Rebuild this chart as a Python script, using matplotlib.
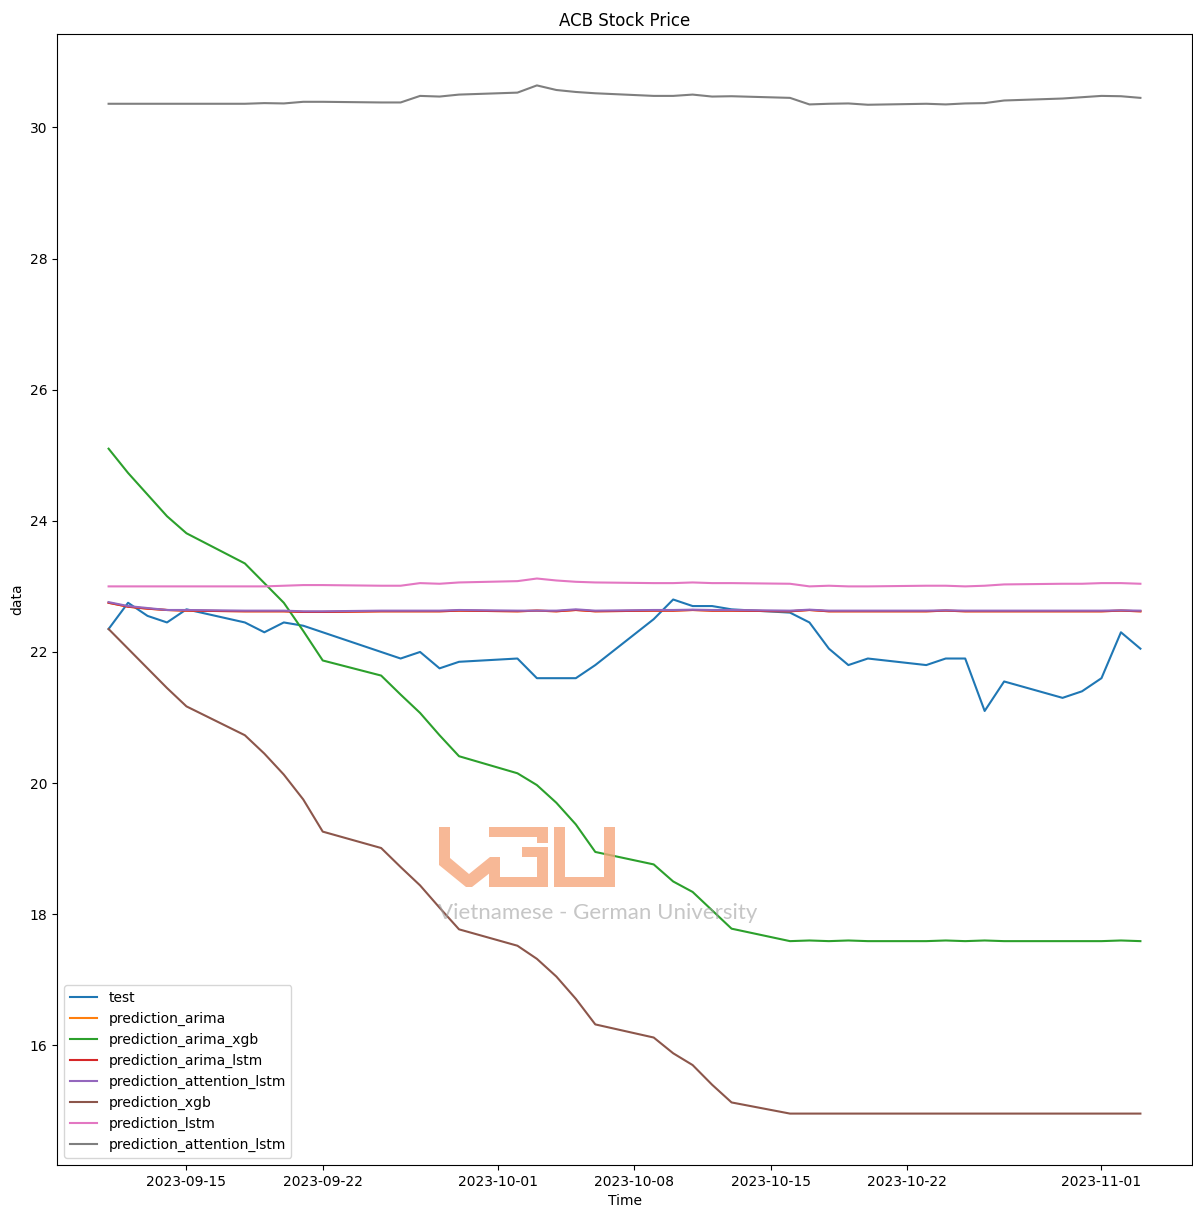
import matplotlib
matplotlib.use('Agg')
import matplotlib.pyplot as plt
import pandas as pd
from matplotlib.path import Path
from matplotlib.patches import PathPatch

# ---------------- data ----------------
dates = pd.bdate_range('2023-09-11', '2023-11-03')

test = [22.35, 22.75, 22.55, 22.45, 22.65,
        22.45, 22.30, 22.45, 22.40, 22.30,
        22.00, 21.90, 22.00, 21.75, 21.85,
        21.90, 21.60, 21.60, 21.60, 21.80,
        22.50, 22.80, 22.70, 22.70, 22.65,
        22.60, 22.45, 22.05, 21.80, 21.90,
        21.80, 21.90, 21.90, 21.10, 21.55,
        21.30, 21.40, 21.60, 22.30, 22.05]

prediction_arima = [22.75, 22.69, 22.66, 22.64, 22.63,
                    22.62, 22.62, 22.62, 22.61, 22.61,
                    22.62, 22.62, 22.62, 22.62, 22.63,
                    22.62, 22.63, 22.62, 22.64, 22.62,
                    22.63, 22.63, 22.64, 22.63, 22.63,
                    22.62, 22.64, 22.62, 22.62, 22.62,
                    22.62, 22.63, 22.62, 22.62, 22.62,
                    22.62, 22.62, 22.62, 22.63, 22.62]

prediction_arima_xgb = [25.10, 24.73, 24.40, 24.07, 23.81,
                        23.35, 23.05, 22.75, 22.32, 21.87,
                        21.64, 21.35, 21.07, 20.73, 20.41,
                        20.15, 19.97, 19.70, 19.37, 18.95,
                        18.76, 18.50, 18.34, 18.06, 17.78,
                        17.59, 17.60, 17.59, 17.60, 17.59,
                        17.59, 17.60, 17.59, 17.60, 17.59,
                        17.59, 17.59, 17.59, 17.60, 17.59]

prediction_arima_lstm = [22.75, 22.69, 22.66, 22.64, 22.63,
                         22.62, 22.62, 22.62, 22.61, 22.61,
                         22.62, 22.62, 22.62, 22.62, 22.63,
                         22.62, 22.63, 22.62, 22.64, 22.62,
                         22.63, 22.63, 22.64, 22.63, 22.63,
                         22.62, 22.64, 22.62, 22.62, 22.62,
                         22.62, 22.63, 22.62, 22.62, 22.62,
                         22.62, 22.62, 22.62, 22.63, 22.62]

prediction_attention_lstm_1 = [22.76, 22.70, 22.67, 22.64, 22.64,
                               22.63, 22.63, 22.63, 22.62, 22.62,
                               22.63, 22.63, 22.63, 22.63, 22.64,
                               22.63, 22.63, 22.63, 22.65, 22.63,
                               22.64, 22.64, 22.645, 22.64, 22.64,
                               22.63, 22.645, 22.63, 22.63, 22.63,
                               22.63, 22.635, 22.63, 22.63, 22.63,
                               22.63, 22.63, 22.63, 22.635, 22.63]

prediction_xgb = [22.35, 22.05, 21.75, 21.45, 21.17,
                  20.73, 20.45, 20.13, 19.75, 19.26,
                  19.01, 18.72, 18.44, 18.10, 17.77,
                  17.52, 17.32, 17.05, 16.71, 16.32,
                  16.12, 15.88, 15.70, 15.40, 15.13,
                  14.96, 14.96, 14.96, 14.96, 14.96,
                  14.96, 14.96, 14.96, 14.96, 14.96,
                  14.96, 14.96, 14.96, 14.96, 14.96]

prediction_lstm = [23.00, 23.00, 23.00, 23.00, 23.00,
                   23.00, 23.00, 23.01, 23.02, 23.02,
                   23.01, 23.01, 23.05, 23.04, 23.06,
                   23.08, 23.12, 23.09, 23.07, 23.06,
                   23.05, 23.05, 23.06, 23.05, 23.05,
                   23.04, 23.00, 23.01, 23.00, 23.00,
                   23.01, 23.01, 23.00, 23.01, 23.03,
                   23.04, 23.04, 23.05, 23.05, 23.04]

prediction_attention_lstm_2 = [30.36, 30.36, 30.36, 30.36, 30.36,
                               30.36, 30.37, 30.365, 30.39, 30.39,
                               30.38, 30.38, 30.48, 30.47, 30.50,
                               30.53, 30.64, 30.57, 30.54, 30.52,
                               30.48, 30.48, 30.50, 30.47, 30.475,
                               30.45, 30.35, 30.36, 30.365, 30.345,
                               30.36, 30.35, 30.365, 30.37, 30.41,
                               30.44, 30.46, 30.48, 30.475, 30.45]

series = [
    ('test', test),
    ('prediction_arima', prediction_arima),
    ('prediction_arima_xgb', prediction_arima_xgb),
    ('prediction_arima_lstm', prediction_arima_lstm),
    ('prediction_attention_lstm', prediction_attention_lstm_1),
    ('prediction_xgb', prediction_xgb),
    ('prediction_lstm', prediction_lstm),
    ('prediction_attention_lstm', prediction_attention_lstm_2),
]

# ---------------- figure ----------------
W, H = 1193, 1209
fig = plt.figure(figsize=(W / 100, H / 100), dpi=100)
ax = fig.add_axes([57 / W, 44 / H, 1135 / W, 1131 / H])

for name, vals in series:
    ax.plot(dates, vals, label=name)

ax.set_title('ACB Stock Price')
ax.set_xlabel('Time')
ax.set_ylabel('data')
ax.legend(loc='lower left')

# ---------------- watermark ----------------
def px(x, y):
    return (x / W, 1 - y / H)

def rect(x0, y0, x1, y1):
    return [(x0, y0), (x1, y0), (x1, y1), (x0, y1)]

shapes = [
    # V
    [(439, 827), (450, 827), (450, 858), (469, 874), (490, 857), (500, 857),
     (500, 865), (472, 887), (466, 887), (439, 865)],
    # G
    rect(489, 860, 500, 887),
    rect(489, 877, 548, 887),
    rect(537, 847, 548, 887),
    rect(522, 847, 548, 857),
    rect(489, 827, 548, 837),
    rect(537, 827, 548, 843),
    # U
    rect(554, 827, 565, 887),
    rect(554, 877, 615, 887),
    rect(604, 827, 615, 887),
]
verts, codes = [], []
for poly in shapes:
    area = 0
    for i in range(len(poly)):
        x1, y1 = poly[i]
        x2, y2 = poly[(i + 1) % len(poly)]
        area += x1 * y2 - x2 * y1
    if area < 0:
        poly = poly[::-1]
    for i, p in enumerate(poly):
        verts.append(px(*p))
        codes.append(Path.MOVETO if i == 0 else Path.LINETO)
    verts.append(px(*poly[0]))
    codes.append(Path.CLOSEPOLY)
logo = PathPatch(Path(verts, codes), transform=fig.transFigure,
                 facecolor='#F6A67C', edgecolor='none', alpha=0.8, zorder=5)
fig.patches.append(logo)

fig.text(598 / W, 1 - 913 / H, 'Vietnamese - German University',
         family=['Lato', 'DejaVu Sans'], fontsize=16, color='#a0a0a0',
         alpha=0.6, ha='center', va='center', zorder=6)

fig.savefig('out.png', dpi=100)
